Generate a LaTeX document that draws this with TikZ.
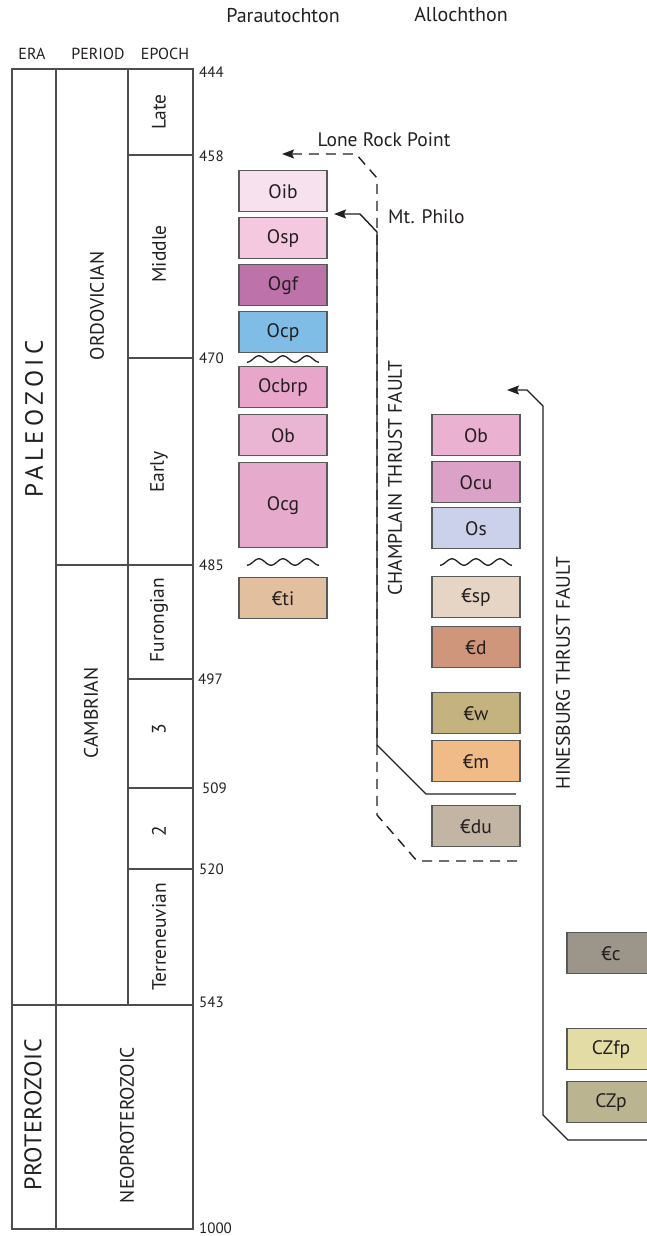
\documentclass[tikz,border=0pt]{standalone}
\usepackage{fontspec}
\setmainfont{PT Sans}
\usetikzlibrary{arrows.meta}

\definecolor{colrule}{HTML}{4D4D4D}
\definecolor{colink}{HTML}{231F20}
\definecolor{coledge}{HTML}{58595B}
\definecolor{uoib}{HTML}{F7E1EE}
\definecolor{uosp}{HTML}{F4C9DF}
\definecolor{uogf}{HTML}{BD72A9}
\definecolor{uocp}{HTML}{7FBDE6}
\definecolor{uocbrp}{HTML}{E8A6CB}
\definecolor{uob}{HTML}{EAB5D2}
\definecolor{uocg}{HTML}{E5AACC}
\definecolor{uti}{HTML}{E2BF9F}
\definecolor{uobA}{HTML}{EBB1D1}
\definecolor{uocu}{HTML}{DCA1C7}
\definecolor{uos}{HTML}{CCD1EB}
\definecolor{usp}{HTML}{E6D5C4}
\definecolor{ud}{HTML}{CF967B}
\definecolor{uw}{HTML}{C4B37E}
\definecolor{um}{HTML}{F0BB86}
\definecolor{udu}{HTML}{C2B5A3}
\definecolor{uc}{HTML}{9B9689}
\definecolor{uczfp}{HTML}{E3DDA5}
\definecolor{uczp}{HTML}{BBB490}

\newcommand{\fsz}[1]{\fontsize{#1}{#1}\selectfont}

\begin{document}
\begin{tikzpicture}[
  x=1pt, y=-1pt, font=\fsz{19.5}, text=colink,
  grid/.style={draw=colrule, line width=1.1pt},
  colhdr/.style={font=\fsz{16}, inner sep=0pt},
  title/.style={font=\fsz{20}, inner sep=0pt},
  age/.style={font=\fsz{15}, anchor=west, inner sep=0pt},
  vlab/.style={rotate=90, inner sep=0pt},
  era/.style={vlab, font=\fsz{25}},
  unit/.style={rectangle, draw=coledge, line width=1.4pt, minimum width=88pt,
               minimum height=41pt, inner sep=0pt, anchor=north},
  fault/.style={draw=colink, line width=1.4pt,
                -{Stealth[length=12pt, width=9pt, inset=2pt]}},
  unconf/.pic={\draw[colink, line width=1.3pt]
                 plot[domain=-36:36, samples=73, smooth] (\x, {-3.2*cos(15*\x)});}]

  \useasboundingbox (0,0) rectangle (646,1236);

  \def\xl{12}    % left edge of the time scale
  \def\xa{56}    % era | period
  \def\xb{128}   % period | epoch
  \def\xr{193}   % right edge of the time scale
  \def\xp{283}   % parautochthon column
  \def\xq{476}   % allochthon column

  % ---- time scale ------------------------------------------------------
  \node[colhdr] (hera) at (32,54) {ERA};
  \node[colhdr] (hper) at (98,54) {PERIOD};
  \node[colhdr] (hepo) at (165,54) {EPOCH};

  \draw[grid] (\xl,69) rectangle (\xr,1229);
  \draw[grid] (\xa,69) -- (\xa,1229);
  \draw[grid] (\xb,69) -- (\xb,1005);
  \draw[grid] (\xl,1005) -- (\xr,1005);
  \draw[grid] (\xa,565) -- (\xr,565);
  \foreach \y in {155,358,679,788,869} { \draw[grid] (\xb,\y) -- (\xr,\y); }

  \foreach \a/\x/\y in {444/199/72, 458/199/156, 470/199/358, 485/199/565,
                        497/198/679, 509/202/788, 520/199/869, 543/199/1002,
                        1000/199/1228} {
    \node[age] (age\a) at (\x,\y) {\a};
  }

  \node[era, font={\fsz{25}\addfontfeature{LetterSpace=18}}] (paleo) at (34,419) {PALEOZOIC};
  \node[era, font={\fsz{24}\addfontfeature{LetterSpace=2}}] (protero) at (33,1115) {PROTEROZOIC};
  \node[vlab] (ordo) at (97,306) {ORDOVICIAN};
  \node[vlab] (camb) at (91,713) {CAMBRIAN};
  \node[vlab] (neopro) at (127,1125) {NEOPROTEROZOIC};

  \foreach \n/\t/\y in {late/Late/112, mid/Middle/254, early/Early/472,
                        furo/Furongian/620, s3/3/729, s2/2/831,
                        terre/Terreneuvian/937} {
    \node[vlab] (ep-\n) at (159,\y) {\t};
  }

  % ---- parautochthon ---------------------------------------------------
  \node[title] (tpara) at (\xp,16) {Parautochton};
  \foreach \n/\t/\c/\y in {oib/Oib/uoib/170, osp/Osp/uosp/217, ogf/Ogf/uogf/264,
                           ocp/Ocp/uocp/311, ocbrp/Ocbrp/uocbrp/366, ob/Ob/uob/414,
                           ti/€ti/uti/577} {
    \node[unit, fill=\c] (p-\n) at (\xp,\y) {\t};
  }
  \node[unit, fill=uocg, minimum height=85pt] (p-ocg) at (\xp,462) {Ocg};
  \pic at (\xp,359) {unconf};
  \pic at (\xp,562) {unconf};

  % ---- allochthon ------------------------------------------------------
  \node[title] (tallo) at (461,15) {Allochthon};
  \foreach \n/\t/\c/\y in {ob/Ob/uobA/414, ocu/Ocu/uocu/461, os/Os/uos/507,
                           sp/€sp/usp/576, d/€d/ud/626, w/€w/uw/692,
                           m/€m/um/740, du/€du/udu/805} {
    \node[unit, fill=\c] (a-\n) at (\xq,\y) {\t};
  }
  \pic at (\xq,562) {unconf};

  \foreach \n/\t/\c/\y in {c/€c/uc/932, czfp/CZfp/uczfp/1028, czp/CZp/uczp/1081} {
    \node[unit, fill=\c] (b-\n) at (611,\y) {\t};
  }

  % ---- faults ----------------------------------------------------------
  \coordinate (lrp-tip) at (282,154);
  \coordinate (lrp-end) at (517,861);
  \coordinate (cf-tip)  at (334,214);
  \coordinate (cf-end)  at (516,794);
  \coordinate (hf-tip)  at (507,390);
  \coordinate (hf-end)  at (650,1140);

  \draw[fault, dash pattern=on 10pt off 7pt]
    (lrp-end) -- (417,861) -- (377,815) -- (377,178) -- (356,154) -- (lrp-tip);
  \draw[fault] (cf-end) -- (426,794) -- (377,745) -- (377,232) -- (360,214) -- (cf-tip);
  \draw[fault] (hf-end) -- (568,1140) -- (543,1115) -- (543,406) -- (527,390) -- (hf-tip);

  \node[inner sep=0pt] (lrp) at (384,140) {Lone Rock Point};
  \node[inner sep=0pt, anchor=west] (philo) at (388,217) {Mt. Philo};
  \node[vlab] (champ) at (395,478) {CHAMPLAIN THRUST FAULT};
  \node[vlab] (hines) at (563,673) {HINESBURG THRUST FAULT};
\end{tikzpicture}
\end{document}
